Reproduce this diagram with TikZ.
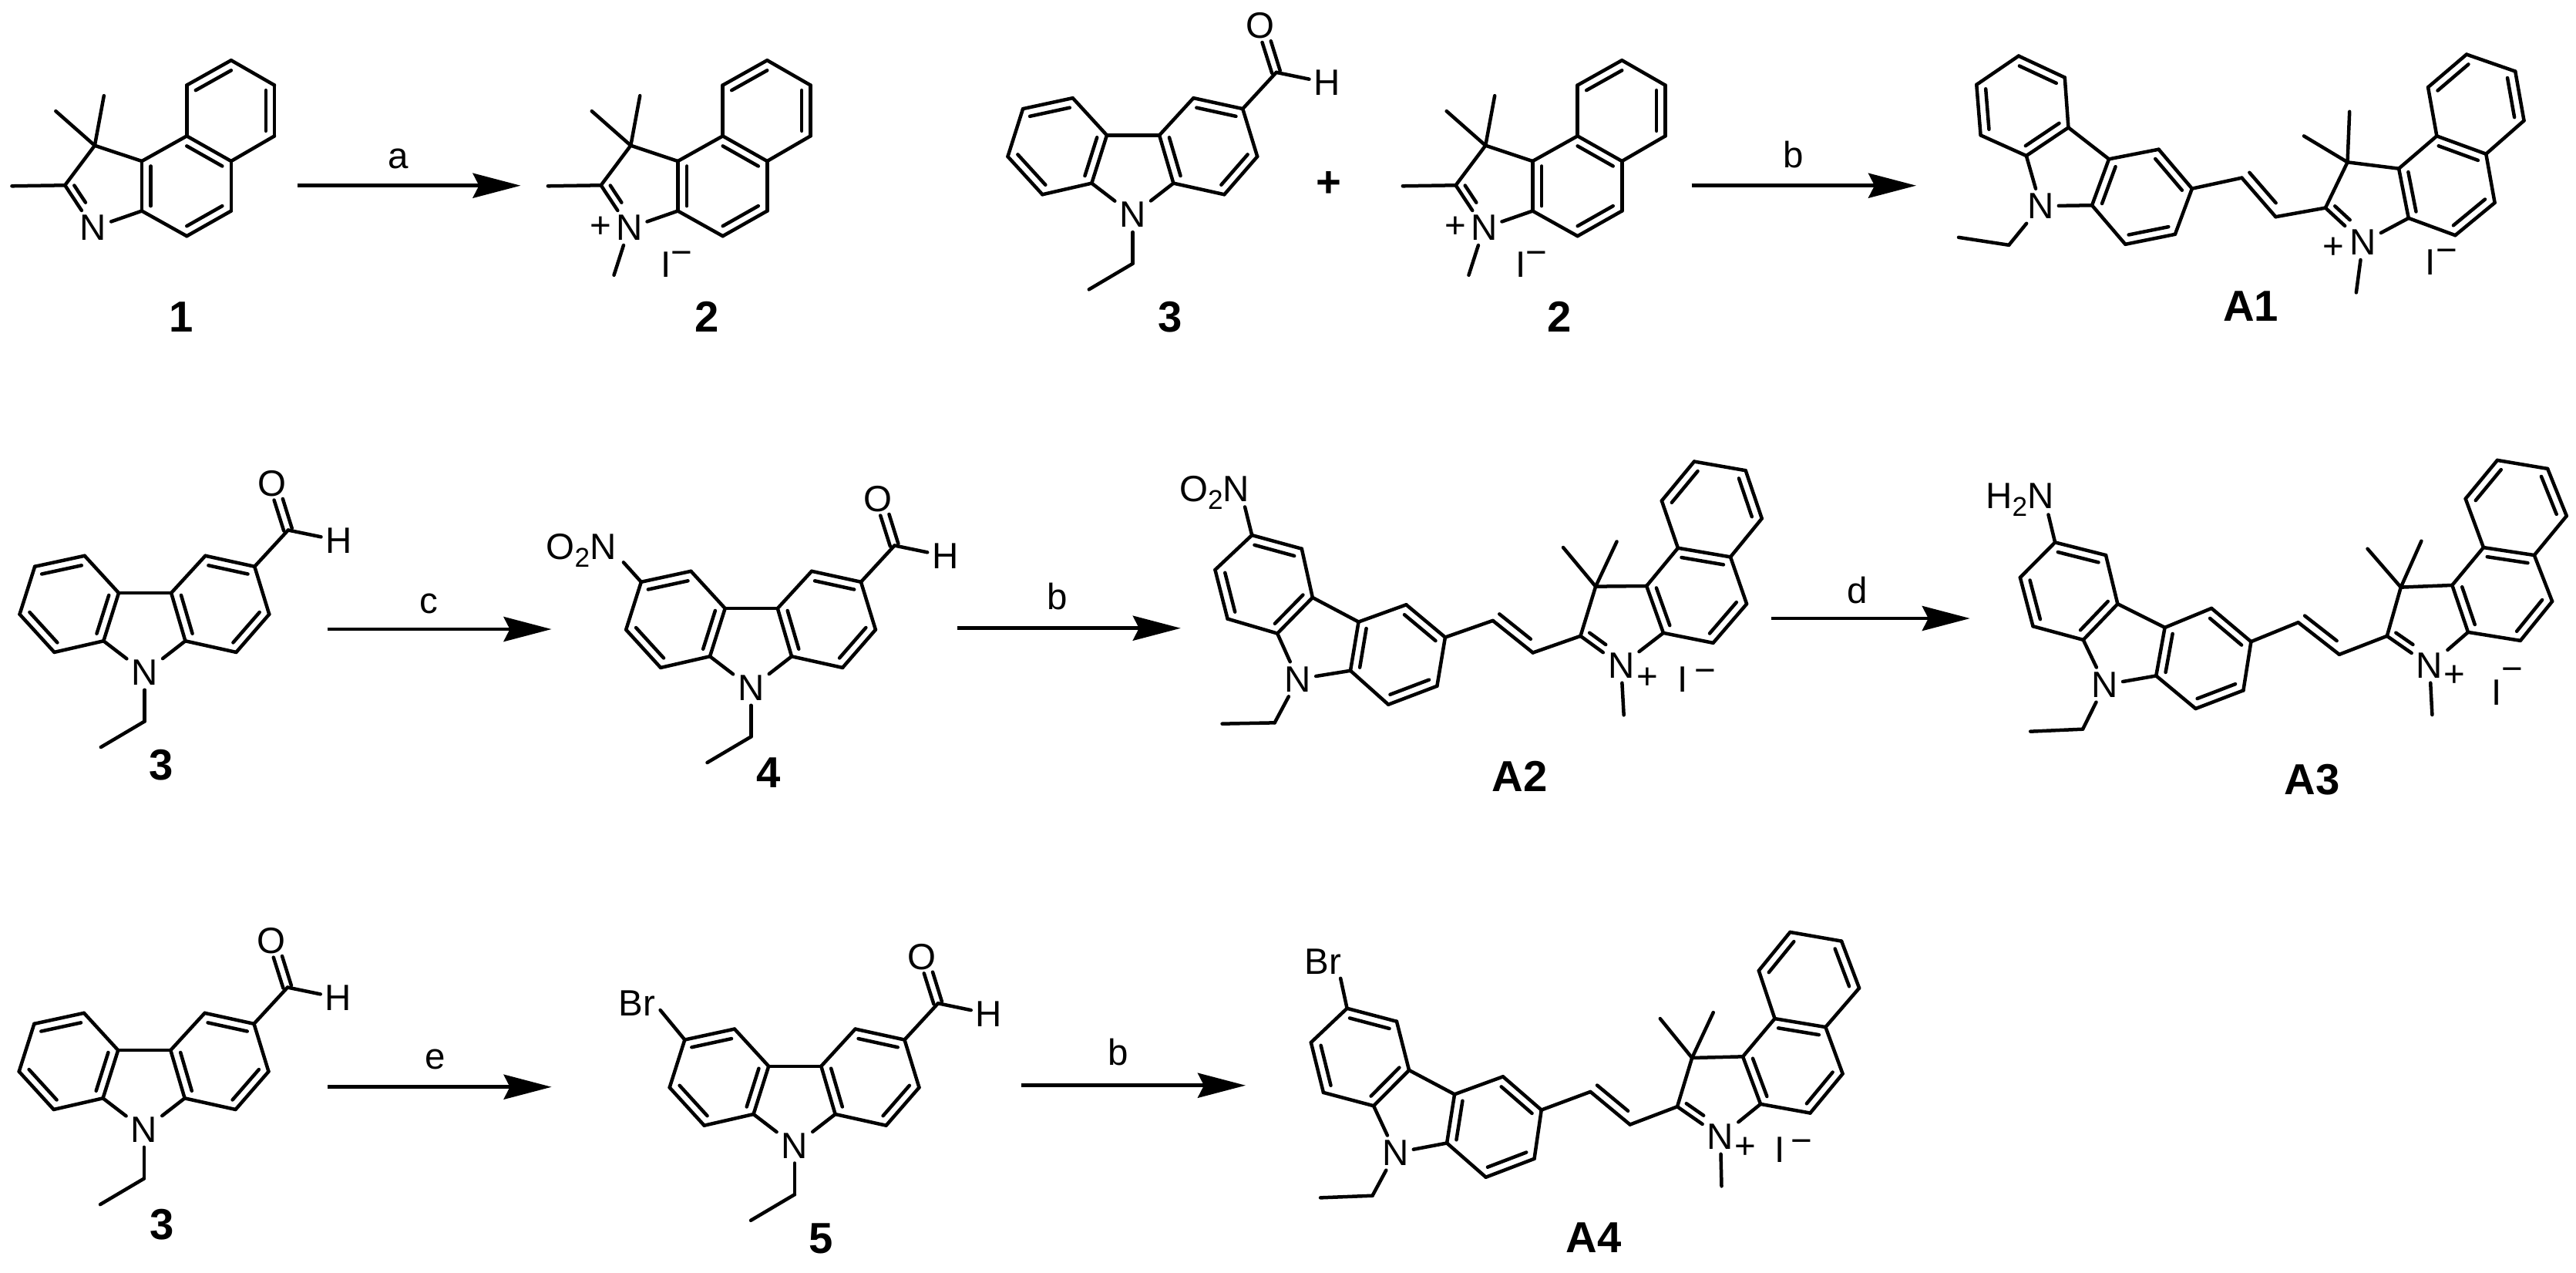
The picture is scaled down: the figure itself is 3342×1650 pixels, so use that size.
\documentclass[tikz,border=0pt]{standalone}
\usepackage{fontspec}
\setmainfont{Liberation Sans}
\usetikzlibrary{arrows.meta,calc}
\tikzset{
 bond/.style={line width=.045cm,line cap=round,line join=round},
 atom/.style={font=\fontsize{13.5pt}{16pt}\selectfont,inner sep=.055cm},
 txt/.style={font=\fontsize{13.5pt}{16pt}\selectfont,inner sep=0pt,anchor=base},
 lab/.style={font=\fontsize{16pt}{19pt}\selectfont\bfseries,inner sep=0pt,anchor=base},
 rxn/.style={line width=.045cm,-{Stealth[length=.62cm,width=.32cm,inset=.08cm]}},
}
\newcommand\dbl[3]{\draw[bond] (#1) -- (#2); \draw[bond] ($(#1)!.2!(#3)$) -- ($(#2)!.2!(#3)$);}
\newcommand\sgl[2]{\draw[bond] (#1) -- (#2);}
\newcommand\Iod[5]{\node[txt,anchor=base west] (#1) at (#2,#3) {I\hspace{#4}\raisebox{#5}{−}};}
\newcommand\subtwo{\raisebox{-.1cm}{\fontsize{10pt}{12pt}\selectfont 2}}
% naphtho-indolenine, coordinates of the first crop
\newcommand\NaphInd[3]{\begin{scope}[name prefix=#1-,shift={(#2cm,0cm)},x=.0070153cm,y=-.0033333cm]
 \foreach \n/\x/\y in {a/427/235,b/507/332,c/507/530,d/427/628,e/345/530,f/345/332,g/262/628,h/262/822,i/345/920,j/427/822,Cq/175/567,Me1/192/373,Me2/103/433,C2/120/722,Me3/22/725,Nc/172/888}
   \coordinate (\n) at (\x,\y);
 \node[atom] (N) at (Nc) {N};
 \coordinate (cu) at ($(a)!.5!(d)$);
 \coordinate (cl) at ($(e)!.5!(i)$);
 \coordinate (cp) at ($0.2*(C2)+0.2*(Cq)+0.2*(g)+0.2*(h)+0.2*(Nc)$);
 \dbl{f}{a}{cu} \sgl{a}{b} \dbl{b}{c}{cu} \sgl{c}{d} \sgl{e}{f}
 \dbl{e}{d}{cl} \sgl{d}{j} \dbl{j}{i}{cl} \sgl{i}{h} \dbl{h}{g}{cl} \sgl{g}{e}
 \sgl{g}{Cq} \sgl{Cq}{Me1} \sgl{Cq}{Me2} \sgl{Cq}{C2} \sgl{C2}{Me3}
 \sgl{C2}{N} \sgl{h}{N}
 \draw[bond] ($(C2)!.22!(cp)$) -- ($(C2)!.22!(cp)+0.4*(Nc)-0.4*(C2)$);
 #3
\end{scope}}
\newcommand\Salt{\coordinate (Mn) at (144,1072); \sgl{N}{Mn}
 \node[atom,inner sep=0pt] (pl) at (119,885) {+};
 \Iod{iod}{230}{1080}{0pt}{.16cm}}
% carbazole aldehyde, coordinates of the second crop
\newcommand\Carb[3]{\begin{scope}[name prefix=#1-,shift={(#2cm,#3cm)},x=.0070153cm,y=-.0033333cm]
 \foreach \n/\x/\y in {p1/272/382,p2/180/424,p3/152/610,p4/216/758,p5/307/714,p6/335/527,p7/432/527,p8/458/714,q1/495/382,q2/586/424,q3/613/610,q4/552/758,Et1/383/1027,Et2/302/1128,CHO/648/282,Ca/640/285,Cb/655/275,Oa/622/165,Ob/638/160}
   \coordinate (\n) at (\x,\y);
 \node[atom] (N) at (383,837) {N};
 \node[atom] (H) at (742,323) {H};
 \node[atom] (O) at (618,100) {O};
 \coordinate (cl) at ($(p1)!.5!(p4)$);
 \coordinate (cr) at ($(q1)!.5!(q4)$);
 \dbl{p1}{p2}{cl} \sgl{p2}{p3} \dbl{p3}{p4}{cl} \sgl{p4}{p5} \dbl{p5}{p6}{cl} \sgl{p6}{p1}
 \sgl{p6}{p7} \dbl{p7}{p8}{cr} \sgl{p7}{q1} \dbl{q1}{q2}{cr} \sgl{q2}{q3} \dbl{q3}{q4}{cr} \sgl{q4}{p8}
 \sgl{p5}{N} \sgl{p8}{N} \sgl{N}{Et1} \sgl{Et1}{Et2}
 \sgl{q2}{CHO} \sgl{CHO}{H} \sgl{Ca}{Oa} \sgl{Cb}{Ob}
\end{scope}}
% the bonds shared by the four dyes
\newcommand\DyeBonds{
 \coordinate (cr) at ($(r1)!.5!(r4)$);
 \coordinate (cs) at ($(s3)!.5!(s6)$);
 \coordinate (ct) at ($(t3)!.5!(t6)$);
 \coordinate (cu) at ($(u1)!.5!(u4)$);
 \coordinate (cp) at ($0.2*(C2)+0.2*(Cq)+0.2*(t1)+0.2*(t2)+0.2*(NPc)$);
 \node[atom] (N) at (Nc) {N};
 \node[atom] (NP) at (NPc) {N};
 \dbl{r1}{r2}{cr} \sgl{r2}{r3} \dbl{r3}{r4}{cr} \sgl{r4}{r5} \dbl{r5}{r6}{cr} \sgl{r6}{r1}
 \sgl{r3}{s1} \sgl{r4}{N} \sgl{s2}{N} \sgl{N}{Et1} \sgl{Et1}{Et2}
 \dbl{s1}{s2}{cs} \sgl{s1}{s3} \dbl{s3}{s4}{cs} \sgl{s4}{s5} \dbl{s5}{s6}{cs} \sgl{s6}{s2}
 \sgl{s4}{V1} \sgl{V1}{V2} \sgl{V2}{C2}
 \draw[bond] ($(V1)!.02!(V2)!.12cm!90:(V2)$) -- ($(V1)!.8!(V2)!.12cm!90:(V2)$);
 \sgl{C2}{NP} \draw[bond] ($(C2)!.22!(cp)$) -- ($(C2)!.22!(cp)+0.4*(NPc)-0.4*(C2)$);
 \sgl{C2}{Cq} \sgl{Cq}{t1} \sgl{Cq}{Me1} \sgl{Cq}{Me2}
 \dbl{t1}{t2}{ct} \sgl{t2}{NP} \sgl{NP}{Mn}
 \sgl{t1}{t3} \dbl{t3}{t4}{ct} \sgl{t4}{t5} \dbl{t5}{t6}{ct} \sgl{t6}{t2}
 \sgl{t3}{u1} \dbl{u1}{u2}{cu} \sgl{u2}{u3} \dbl{u3}{u4}{cu} \sgl{u4}{t4}
}
\begin{document}
\begin{tikzpicture}[x=.01cm,y=-.01cm]
\useasboundingbox[fill=white] (0,0) rectangle (3342,1650);

% first row
\NaphInd{m1}{0}{}
\NaphInd{m2}{6.95}{\Salt}
\Carb{m3}{12}{0}
\node[lab,anchor=center] (plus) at (1724,239) {+};
\NaphInd{m2b}{18.033}{\Salt}
\begin{scope}[name prefix=A1-,shift={(23cm,0cm)},x=.0066454cm,y=-.0033333cm]
 \foreach \n/\x/\y in {r1/477/218,r2/567/302,r3/574/497,r4/492/607,r5/403/527,r6/395/330,s1/653/620,s2/620/800,s3/750/582,s4/815/735,s5/782/913,s6/685/952,Nc/520/803,Et1/458/955,Et2/360/925,V1/912/693,V2/978/845,C2/1075/810,Cq/1118/632,Me1/1122/435,Me2/1033/530,NPc/1148/945,t1/1218/657,t2/1237/850,t3/1292/530,t4/1388/600,t5/1405/790,t6/1328/917,u1/1275/340,u2/1350/212,u3/1445/278,u4/1462/470,Mn/1135/1140}
   \coordinate (\n) at (\x,\y);
 \DyeBonds
 \node[atom,inner sep=0pt] (pl) at (1090,968) {+};
 \Iod{iod}{1268}{1072}{.01cm}{.16cm}
\end{scope}

% second row
\Carb{m3b}{-.812}{-5.933}
\Carb{m4}{7.05}{-6.133}
\node[txt,anchor=base west] (no2) at (708,725) {O\subtwo N};
\coordinate (no2e) at (808.9,729.3);
\sgl{m4-p2}{no2e}
\begin{scope}[name prefix=A2-,shift={(12cm,-5.4cm)},x=.0070153cm,y=-.0033333cm]
 \foreach \n/\x/\y in {r1/603/462,r2/695/515,r3/715/705,r4/650/845,r5/558/788,r6/535/597,s1/800/800,s2/785/990,s3/888/733,s4/960/860,s5/945/1050,s6/855/1122,Nc/688/1023,Et1/645/1193,Et2/548/1197,V1/1048/795,V2/1122/920,C2/1210/855,Cq/1238/662,Me1/1277/487,Me2/1178/510,NPc/1285/970,t1/1332/660,t2/1363/843,t3/1390/512,t4/1487/547,t5/1517/730,t6/1455/882,u1/1360/328,u2/1420/175,u3/1515/210,u4/1545/397,Mn/1290/1163,Xe/590/352}
   \coordinate (\n) at (\x,\y);
 \DyeBonds
 \sgl{r1}{Xe}
 \node[txt,anchor=base west] (sub) at (468,330) {O\subtwo N};
 \node[atom,inner sep=0pt] (pl) at (1333,1020) {+};
 \Iod{iod}{1389}{1072}{.08cm}{.12cm}
\end{scope}
\begin{scope}[name prefix=A3-,shift={(23cm,-5.4cm)},x=.0066454cm,y=-.0033333cm]
 \foreach \n/\x/\y in {r1/548/490,r2/647/540,r3/670/730,r4/603/870,r5/505/817,r6/480/627,s1/762/822,s2/745/1010,s3/853/747,s4/930/877,s5/915/1067,s6/822/1138,Nc/645/1045,Et1/602/1218,Et2/500/1227,V1/1022/802,V2/1102/927,C2/1195/855,Cq/1222/665,Me1/1262/485,Me2/1157/515,NPc/1278/970,t1/1322/657,t2/1353/840,t3/1383/510,t4/1482/540,t5/1517/720,t6/1455/873,u1/1348/320,u2/1410/170,u3/1508/203,u4/1545/387,Mn/1283/1162,Xe/535/382}
   \coordinate (\n) at (\x,\y);
 \DyeBonds
 \sgl{r1}{Xe}
 \node[txt,anchor=base west] (sub) at (412,358) {H\subtwo N};
 \node[atom,inner sep=0pt] (pl) at (1327,1012) {+};
 \Iod{iod}{1398}{1124}{0pt}{.31cm}
\end{scope}

% third row
\Carb{m3c}{-.82}{-11.86}
\Carb{m5}{7.615}{-12.067}
\node[txt,anchor=base west] (br5) at (802,1317.7) {Br};
\coordinate (br5e) at (856.6,1310);
\sgl{m5-p2}{br5e}
\begin{scope}[name prefix=A4-,shift={(13cm,-11.5cm)},x=.0076531cm,y=-.0033333cm]
 \foreach \n/\x/\y in {r1/583/472,r2/667/523,r3/688/713,r4/628/852,r5/543/800,r6/522/605,s1/765/807,s2/752/997,s3/847/738,s4/912/868,s5/900/1058,s6/818/1130,Nc/665/1035,Et1/626/1202,Et2/538/1210,V1/995/797,V2/1062/925,C2/1142/855,Cq/1167/665,Me1/1203/488,Me2/1113/512,NPc/1215/972,t1/1253/660,t2/1283/845,t3/1307/512,t4/1393/545,t5/1422/727,t6/1367/880,u1/1280/325,u2/1333/175,u3/1420/210,u4/1450/393,Mn/1217/1165,Xe/572/355}
   \coordinate (\n) at (\x,\y);
 \DyeBonds
 \sgl{r1}{Xe}
 \node[txt,anchor=base west] (sub) at (510,338) {Br};
 \node[atom,inner sep=0pt] (pl) at (1257,1017) {+};
 \Iod{iod}{1306}{1072}{.08cm}{.12cm}
\end{scope}

% reaction arrows and their letters
\foreach \n/\xa/\xb/\y in {ra/385.8/675.5/240.7,rb/2194.7/2486/240.7,rc/424.7/715.5/816,rbb/1242.1/1531.8/814.7,rd/2298/2555.8/802,re/425.4/715.6/1409.7,rbc/1325.3/1616/1407.7}{
 \coordinate (\n s) at (\xa,\y);
 \coordinate (\n e) at (\xb,\y);
 \draw[rxn] (\n s) -- (\n e);
}
\foreach \n/\x/\y/\t in {la/517/218/a,lb/2326.6/217.3/b,lc/556/795/c,lbb/1371.9/790/b,ld/2409.6/782.3/d,le/564.7/1386.7/e,lbc/1450.8/1381.7/b}
 \node[txt] (\n) at (\x,\y) {\t};

% compound numbers
\foreach \n/\x/\y/\t in {c1/235/430/1,c2/917.6/430/2,c3/1517.8/430/3,c2b/2022.9/430/2,cA1/2920/416.7/A1,c3b/209/1011/3,c4/997/1021.7/4,cA2/1971.6/1026.7/A2,cA3/2999.8/1030/A3,c3c/209.8/1607/3,c5/1065.5/1625.7/5,cA4/2067.6/1624.3/A4}
 \node[lab] (\n) at (\x,\y) {\t};
\end{tikzpicture}
\end{document}
